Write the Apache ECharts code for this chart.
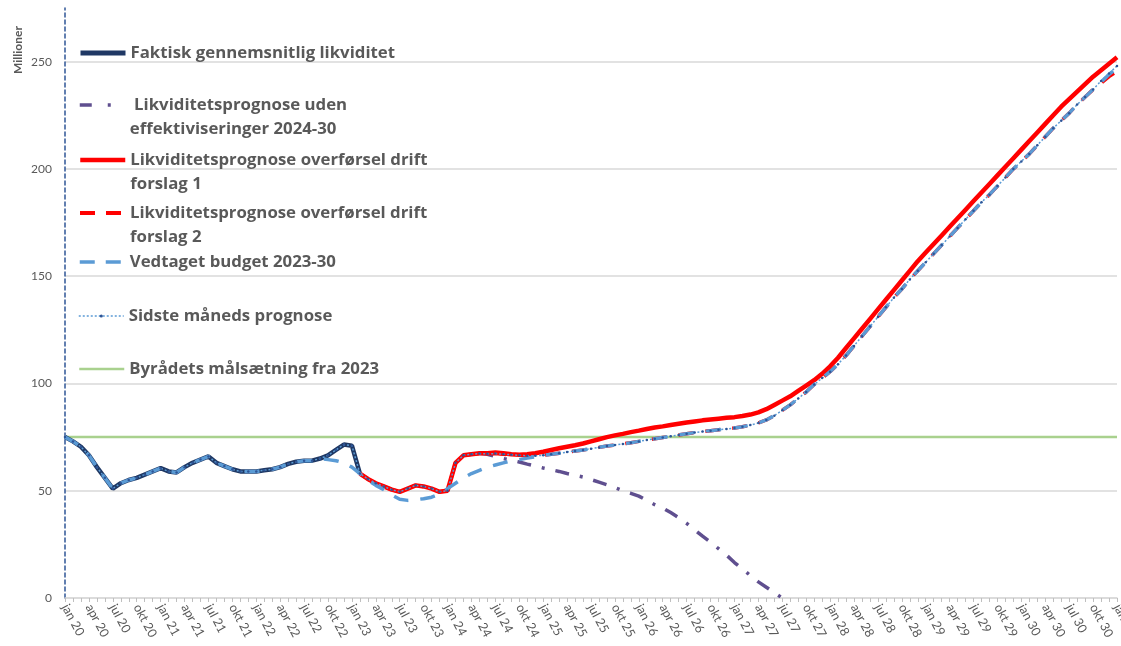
<!DOCTYPE html>
<html>
<head>
<meta charset="utf-8">
<script src="https://cdn.jsdelivr.net/npm/echarts@6/dist/echarts.min.js"></script>
<style>
html,body{margin:0;padding:0;background:#fff;}
#chart{width:1121px;height:646px;}
</style>
</head>
<body>
<div id="chart"></div>
<script>
// ---- categories (monthly, jan 20 .. jan 31) ----
const monthNames = ['jan','feb','mar','apr','maj','jun','jul','aug','sep','okt','nov','dec'];
const years = ['20','21','22','23','24','25','26','27','28','29','30','31'];
const months = [];
years.forEach(function (y, yi) {
  monthNames.forEach(function (m, mi) {
    if (yi < years.length - 1 || mi === 0) months.push(m + ' ' + y);
  });
});

// ---- series names ----
const nameFaktisk = 'Faktisk gennemsnitlig likviditet';
const nameUden = 'Likviditetsprognose uden effektiviseringer 2024-30';
const nameF1 = 'Likviditetsprognose overførsel drift forslag 1';
const nameF2 = 'Likviditetsprognose overførsel drift forslag 2';
const nameBudget = 'Vedtaget budget 2023-30';
const nameSidste = 'Sidste måneds prognose';
const nameMaal = 'Byrådets målsætning fra 2023';

// ---- values (millioner) ----
const faktiskStart = 'jan 20';
const faktisk = [75,73,70.5,66.5,61,56,51,53.5,55,56,57.5,59,60.5,59,58.5,61,63,64.5,66,63,61.5,60,59,59,59,59.5,60,61,62.5,63.5,64,64,65,66.5,69,71.5,71,58];

const udenStart = 'maj 24';
const uden = [67.5,67,66,65,64.2,63.4,62.4,61.5,60.6,59.8,59,58,57.2,56.4,55.2,54,52.8,51.4,50,48.8,47.5,45.5,43.5,42,39.8,37.5,34.8,31.8,28.8,26,23,20,16.5,13.5,10.5,7.5,5,2.5,0];

const forslag1Start = 'feb 23';
const forslag1 = [58,55.5,53.5,52,50.5,49.5,51,52.5,52,51,49.5,50,63,66.5,67,67.5,67.5,67.8,67.5,67,66.8,67,67.5,68.2,
  69,69.8,70.5,71.2,72,73,74,75,75.8,76.5,77.3,78,78.8,79.5,80,80.6,81.2,81.8,82.3,82.8,83.2,83.6,84,84.3,84.8,85.5,86.5,88,
  90,92,94,96.5,99,101.5,104.5,108,112,116.5,121,125.5,130,134.5,139,143.5,148,152.5,157,161,165,169,173,177,
  181,185,189,193,197,201,205,209,213,217,221,225,229,232.5,236,239.5,243,246,249,252];

const forslag2Start = 'feb 23';
const forslag2 = [58,55.5,53.5,52,50.5,49.5,51,52.5,52,51,49.5,50,63,66.5,67,67.3,67.2,67.3,67,66.8,66.5,66.3,66.3,66.5,
  67,67.5,68,68.5,69,69.6,70.2,70.8,71.3,71.8,72.4,73,73.6,74.2,74.8,75.4,76,76.6,77.1,77.6,78,78.4,78.8,79.2,79.8,80.6,81.6,83,
  85,87.5,90,93,96,99.5,102.5,105.5,109,113,117.5,122,126.5,131,135.5,140,144,148.5,152.5,156.5,160.5,164.5,
  168.5,172.5,176.5,180.5,184.5,188,192,196,200,203.5,207,211,215,219,222.5,226,230,233.5,237,240,243,245.5];

const budgetStart = 'jan 20';
const budget = [75,73,70.5,66.5,61,56,51,53.5,55,56,57.5,59,60.5,59,58.5,61,63,64.5,66,63,61.5,60,59,59,59,59.5,60,61,62.5,63.5,64,64,65,
  64.5,64,63,61,58,55,52.5,50.5,48,46,45.5,45.8,46.3,47,48.5,51,53.5,56,58,59.5,61,62,63,64,64.5,65.2,65.8,
  66.5,67,67.5,68,68.5,69,69.6,70.2,70.8,71.3,71.8,72.4,73,73.6,74.2,74.8,75.4,76,76.6,77.1,77.6,78,78.4,78.8,79.2,79.8,80.6,81.6,83,
  85,87.5,90,93,96,99.5,102.5,105.5,109,113,117.5,122,126.5,131,135.5,140,144,148.5,152.5,156.5,160.5,164.5,
  168.5,172.5,176.5,180.5,184.5,188,192,196,200,203.5,207,211,215,219,222.5,226,230,233.5,237,240.5,244,247];

const sidsteStart = 'jan 20';
const sidste = [75,73,70.5,66.5,61,56,51,53.5,55,56,57.5,59,60.5,59,58.5,61,63,64.5,66,63,61.5,60,59,59,59,59.5,60,61,62.5,63.5,64,64,65,66.5,69,71.5,71,58,
  55.5,53.5,52,50.5,49.5,51,52.5,52,51,49.5,50,63,66.5,67,67.3,67.2,67.3,67,66.8,66.5,66.3,66.3,66.5,
  67,67.5,68,68.5,69,69.6,70.2,70.8,71.3,71.8,72.4,73,73.6,74.2,74.8,75.4,76,76.6,77.1,77.6,78,78.4,78.8,79.2,79.8,80.6,81.6,83,
  85,87.5,90,93,96,99.5,102.5,105.5,109,113,117.5,122,126.5,131,135.5,140,144,148.5,152.5,156.5,160.5,164.5,
  168.5,172.5,176.5,180.5,184.5,188,192,196,200,203.5,207,211,215,219,222.5,226,230,233.5,237,241,244.5,248];

const maalValue = 75;
const maalFrom = 'jan 20';
const maalTo = 'jan 31';

// ---- y ticks ----
const yMin = 0, yMax = 275, yStep = 50;

// ---- legend text lines ----
const legendLines = {};
legendLines[nameFaktisk] = ['Faktisk gennemsnitlig likviditet'];
legendLines[nameUden] = [' Likviditetsprognose uden', 'effektiviseringer 2024-30'];
legendLines[nameF1] = ['Likviditetsprognose overførsel drift', 'forslag 1'];
legendLines[nameF2] = ['Likviditetsprognose overførsel drift', 'forslag 2'];
legendLines[nameBudget] = ['Vedtaget budget 2023-30'];
legendLines[nameSidste] = ['Sidste måneds prognose'];
legendLines[nameMaal] = ['Byrådets målsætning fra 2023'];

function place(start, vals) {
  const s = months.indexOf(start);
  return vals.map(function (v, k) { return [s + k, v]; });
}

const C_NAVY = '#1F3864';
const C_PURPLE = '#5F4F8F';
const C_RED = '#FF0000';
const C_BLUE = '#5B9BD5';
const C_GREEN = '#A9D18E';
const TXT = '#595959';
const FONT = 'Lato, "Liberation Sans", sans-serif';
const LFONT = '"Open Sans", Lato, sans-serif';

const LH = 24;
function mkLegend(name, iconY, lineStyle, opts) {
  const lines = legendLines[name];
  const multi = lines.length > 1;
  const nLines = multi ? 3 : 1;
  const top = iconY - (nLines * LH) / 2;
  return Object.assign({
    data: [name],
    left: 78,
    top: top,
    orient: 'vertical',
    padding: 0,
    itemGap: 0,
    itemWidth: 45,
    itemHeight: 14,
    selectedMode: false,
    formatter: function (n) {
      return multi ? '\n' + lines.join('\n') : lines[0];
    },
    textStyle: { color: TXT, fontSize: 16.8, fontWeight: 'bold', fontFamily: LFONT, lineHeight: LH },
    itemStyle: { opacity: 0 },
    lineStyle: lineStyle
  }, opts || {});
}

const chart = echarts.init(document.getElementById('chart'), null, { renderer: 'canvas' });
chart.setOption({
  animation: false,
  backgroundColor: '#ffffff',
  grid: { left: 65, right: 4, top: 8, bottom: 48, containLabel: false, outerBoundsMode: 'none' },
  graphic: [{
    type: 'text',
    x: 12, y: 74, rotation: Math.PI / 2,
    style: { text: 'Millioner', fill: TXT, font: 'bold 12px ' + FONT }
  }],
  legend: [
    mkLegend(nameFaktisk, 53, { width: 5 }),
    mkLegend(nameUden, 105, { width: 3.5, type: [12, 16, 3, 20] }),
    mkLegend(nameF1, 160, { width: 4.5 }),
    mkLegend(nameF2, 213, { width: 4, type: [15, 11] }),
    mkLegend(nameBudget, 262, { width: 3.5, type: [15, 11] }),
    mkLegend(nameSidste, 316, { width: 1.5 }, { itemHeight: 4, itemStyle: { opacity: 1, color: '#2E5597' } }),
    mkLegend(nameMaal, 369, { width: 2.5 })
  ],
  xAxis: {
    type: 'category',
    data: months,
    boundaryGap: false,
    axisLine: { show: true, lineStyle: { color: '#d9d9d9', width: 1.5 } },
    axisTick: { show: true, interval: 0, length: 4, lineStyle: { color: '#bfbfbf', width: 1 } },
    axisLabel: { interval: 2, rotate: -62, margin: 7, color: TXT, fontSize: 12.5, fontFamily: FONT, hideOverlap: false },
    splitLine: { show: false }
  },
  yAxis: {
    type: 'value',
    min: yMin, max: yMax, interval: yStep,
    axisLine: { show: true, lineStyle: { color: '#2F5597', width: 1.5, type: [4, 3] } },
    axisTick: { show: false },
    axisLabel: { color: TXT, fontSize: 12, fontFamily: FONT, margin: 13, showMaxLabel: false,
      formatter: function (v) { return v % yStep === 0 ? String(v) : ''; } },
    splitLine: { show: true, showMaxLine: false, lineStyle: { color: '#d9d9d9', width: 1.5 } }
  },
  series: [
    { name: nameMaal, type: 'line', symbol: 'none', z: 1,
      data: [[months.indexOf(maalFrom), maalValue], [months.indexOf(maalTo), maalValue]],
      lineStyle: { color: C_GREEN, width: 2.5 }, itemStyle: { color: C_GREEN } },
    { name: nameFaktisk, type: 'line', symbol: 'none', z: 2,
      data: place(faktiskStart, faktisk),
      lineStyle: { color: C_NAVY, width: 4.5 }, itemStyle: { color: C_NAVY } },
    { name: nameUden, type: 'line', symbol: 'none', z: 2,
      data: place(udenStart, uden),
      lineStyle: { color: C_PURPLE, width: 3.5, type: [14, 11, 3, 11] }, itemStyle: { color: C_PURPLE } },
    { name: nameF1, type: 'line', symbol: 'none', z: 2,
      data: place(forslag1Start, forslag1),
      lineStyle: { color: C_RED, width: 4.5 }, itemStyle: { color: C_RED } },
    { name: nameF2, type: 'line', symbol: 'none', z: 2,
      data: place(forslag2Start, forslag2),
      lineStyle: { color: C_RED, width: 3.5, type: [15, 12] }, itemStyle: { color: C_RED } },
    { name: nameBudget, type: 'line', symbol: 'none', z: 2,
      data: place(budgetStart, budget),
      lineStyle: { color: C_BLUE, width: 3.5, type: [15, 12] }, itemStyle: { color: C_BLUE } },
    { name: nameSidste, type: 'line', symbol: 'circle', symbolSize: 2.5, showSymbol: true, z: 3,
      data: place(sidsteStart, sidste),
      lineStyle: { color: C_BLUE, width: 1.5, type: [2, 2] }, itemStyle: { color: '#2E5597' } }
  ]
});
</script>
</body>
</html>
